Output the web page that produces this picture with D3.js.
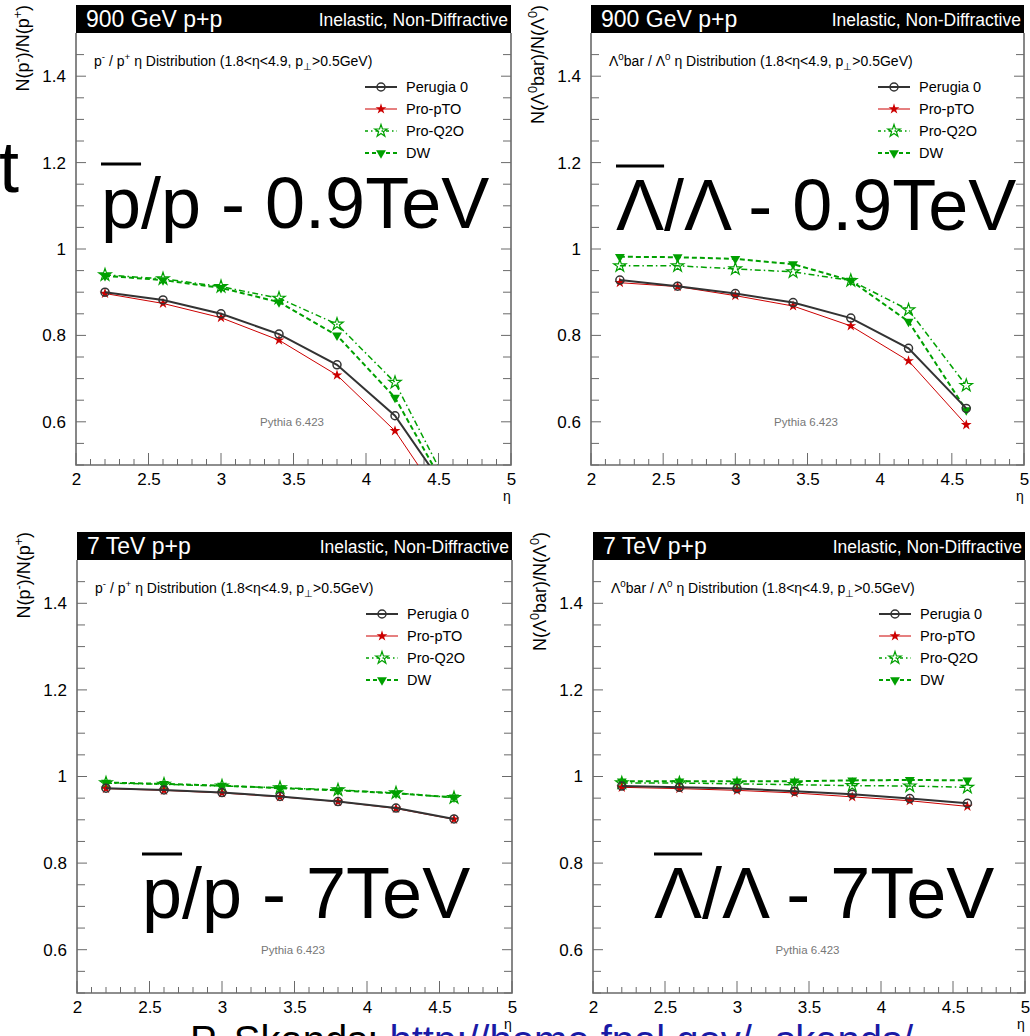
<!DOCTYPE html>
<html>
<head>
<meta charset="utf-8">
<style>
  body { margin: 0; background: #fff; }
  text { font-family: "Liberation Sans", Arial, sans-serif; }
</style>
</head>
<body>
<div id="chart"></div>
<script src="https://d3js.org/d3.v7.min.js"></script>
<script>
// eta bin centres
var eta = [2.2, 2.6, 3.0, 3.4, 3.8, 4.2, 4.6];

// 900 GeV, pbar/p
var p900Perugia = [0.900, 0.882, 0.850, 0.803, 0.732, 0.614, 0.42];
var p900ProPTO  = [0.897, 0.874, 0.841, 0.789, 0.708, 0.579, 0.38];
var p900ProQ2O  = [0.940, 0.931, 0.913, 0.886, 0.826, 0.691, 0.43];
var p900DW      = [0.938, 0.928, 0.910, 0.877, 0.800, 0.656, 0.416];

// 900 GeV, Lambdabar/Lambda
var l900Perugia = [0.928, 0.914, 0.897, 0.876, 0.840, 0.770, 0.631];
var l900ProPTO  = [0.922, 0.913, 0.892, 0.868, 0.822, 0.741, 0.593];
var l900ProQ2O  = [0.961, 0.961, 0.954, 0.947, 0.927, 0.859, 0.684];
var l900DW      = [0.982, 0.981, 0.977, 0.965, 0.927, 0.832, 0.627];

// 7 TeV, pbar/p
var p7Perugia = [0.973, 0.969, 0.963, 0.954, 0.942, 0.927, 0.902];
var p7ProPTO  = [0.972, 0.968, 0.962, 0.953, 0.942, 0.926, 0.901];
var p7ProQ2O  = [0.985, 0.982, 0.978, 0.974, 0.969, 0.962, 0.951];
var p7DW      = [0.986, 0.983, 0.979, 0.973, 0.968, 0.961, 0.952];

// 7 TeV, Lambdabar/Lambda
var l7Perugia = [0.978, 0.975, 0.972, 0.966, 0.959, 0.949, 0.938];
var l7ProPTO  = [0.975, 0.972, 0.968, 0.962, 0.953, 0.944, 0.931];
var l7ProQ2O  = [0.985, 0.985, 0.983, 0.981, 0.979, 0.978, 0.975];
var l7DW      = [0.989, 0.989, 0.989, 0.989, 0.991, 0.992, 0.991];

var seriesNames = ["Perugia 0", "Pro-pTO", "Pro-Q2O", "DW"];
var xTicks = [2, 2.5, 3, 3.5, 4, 4.5, 5];
var yTicks = [0.6, 0.8, 1, 1.2, 1.4];

var W = 1030, H = 1036;
var svg = d3.select("#chart").append("svg").attr("width", W).attr("height", H);

var styles = [
  { color: "#333333", width: 2,   dash: null,        marker: "circle" },
  { color: "#cc0000", width: 1,   dash: null,        marker: "star" },
  { color: "#00a000", width: 1.5, dash: "6,3,1.5,3", marker: "openstar" },
  { color: "#00a000", width: 2,   dash: "5,3",       marker: "tri" }
];

var panels = [
  { x0: 76, x1: 511, top: 33, bot: 465, energy: "900 GeV p+p", kind: "p",
    data: [p900Perugia, p900ProPTO, p900ProQ2O, p900DW] },
  { x0: 591, x1: 1024, top: 33, bot: 465, energy: "900 GeV p+p", kind: "l",
    data: [l900Perugia, l900ProPTO, l900ProQ2O, l900DW] },
  { x0: 77, x1: 512, top: 560, bot: 993, energy: "7 TeV p+p", kind: "p",
    data: [p7Perugia, p7ProPTO, p7ProQ2O, p7DW] },
  { x0: 593, x1: 1025, top: 560, bot: 993, energy: "7 TeV p+p", kind: "l",
    data: [l7Perugia, l7ProPTO, l7ProQ2O, l7DW] }
];

// text made of plain / sup / sub pieces
function richText(sel, parts, size) {
  var shift = 0;
  parts.forEach(function (p) {
    var t = sel.append("tspan").text(p[0]);
    var want = p[1] == "sup" ? -size * 0.4 : (p[1] == "sub" ? size * 0.3 : 0);
    if (p[1]) t.attr("font-size", size * 0.7);
    if (want != shift) t.attr("dy", want - shift);
    shift = want;
  });
}

function markerPath(type) {
  if (type == "tri") return d3.symbol().type(d3.symbolTriangle).size(42)();
  return d3.symbol().type(d3.symbolStar).size(type == "star" ? 36 : 48)();
}

function drawMarker(g, type, color, cx, cy) {
  if (type == "circle") {
    g.append("circle").attr("cx", cx).attr("cy", cy).attr("r", 4)
      .attr("fill", "none").attr("stroke", color).attr("stroke-width", 1.5);
  } else {
    var pth = g.append("path").attr("d", markerPath(type))
      .attr("transform", "translate(" + cx + "," + cy + ")" + (type == "tri" ? " rotate(180)" : ""));
    if (type == "openstar") pth.attr("fill", "none").attr("stroke", color).attr("stroke-width", 1.2);
    else pth.attr("fill", color);
  }
}

panels.forEach(function (P, pi) {
  var g = svg.append("g");
  var x = d3.scaleLinear().domain([2, 5]).range([P.x0, P.x1]);
  var y = d3.scaleLinear().domain([0.5, 1.5]).range([P.bot, P.top]);

  // header bar
  g.append("rect").attr("x", P.x0).attr("y", P.top - 28).attr("width", P.x1 - P.x0).attr("height", 28).attr("fill", "#000");
  g.append("text").attr("x", P.x0 + 10).attr("y", P.top - 6).attr("fill", "#fff").attr("font-size", 23).text(P.energy);
  g.append("text").attr("x", P.x1 - 3).attr("y", P.top - 7).attr("fill", "#fff").attr("font-size", 17.5)
    .attr("text-anchor", "end").text("Inelastic, Non-Diffractive");

  // frame
  g.append("path").attr("d", "M" + P.x0 + "," + P.top + "V" + P.bot + "H" + P.x1 + "V" + P.top)
    .attr("fill", "none").attr("stroke", "#6a6a6a").attr("stroke-width", 1.6);

  // x ticks
  d3.range(20, 51).map(function (d) { return d / 10; }).forEach(function (v) {
    var major = Math.abs(v * 2 - Math.round(v * 2)) < 1e-6;
    g.append("line").attr("x1", x(v)).attr("x2", x(v)).attr("y1", P.bot).attr("y2", P.bot - (major ? 12 : 6))
      .attr("stroke", "#6a6a6a").attr("stroke-width", 1);
  });
  var xAxis = d3.axisBottom(x).tickValues(xTicks).tickSize(0).tickPadding(8)
    .tickFormat(function (d) { return d3.format("")(d); });
  var xg = g.append("g").attr("transform", "translate(0," + P.bot + ")").call(xAxis);
  xg.select(".domain").remove();
  xg.selectAll("text").attr("font-size", 17).attr("font-family", "Liberation Sans, Arial, sans-serif").attr("fill", "#000");
  g.append("text").attr("x", P.x1 - 4).attr("y", P.bot + 36).attr("font-size", 14).attr("text-anchor", "middle").text("η");

  // y ticks (both sides)
  d3.range(10, 30).map(function (d) { return d / 20; }).forEach(function (v) {
    var major = Math.abs(v * 5 - Math.round(v * 5)) < 1e-6;
    var len = major ? 10 : 8;
    g.append("line").attr("x1", P.x0).attr("x2", P.x0 + len).attr("y1", y(v)).attr("y2", y(v)).attr("stroke", "#6a6a6a");
    g.append("line").attr("x1", P.x1).attr("x2", P.x1 - len).attr("y1", y(v)).attr("y2", y(v)).attr("stroke", "#6a6a6a");
  });
  var yAxis = d3.axisLeft(y).tickValues(yTicks).tickSize(0).tickPadding(10)
    .tickFormat(function (d) { return d3.format("")(d); });
  var yg = g.append("g").attr("transform", "translate(" + P.x0 + ",0)").call(yAxis);
  yg.select(".domain").remove();
  yg.selectAll("text").attr("font-size", 17).attr("font-family", "Liberation Sans, Arial, sans-serif").attr("fill", "#000");

  // y title
  var yt = g.append("text").attr("font-size", 18).attr("text-anchor", "end")
    .attr("transform", "translate(" + (P.x0 - 47) + "," + (P.top - 28) + ") rotate(-90)");
  if (P.kind == "p") richText(yt, [["N(p"], ["-", "sup"], [")/N(p"], ["+", "sup"], [")"]], 18);
  else richText(yt, [["N(Λ"], ["0", "sup"], ["bar)/N(Λ"], ["0", "sup"], [")"]], 18);

  // subtitle
  var st = g.append("text").attr("x", P.x0 + 18).attr("y", P.top + 33).attr("font-size", 14);
  if (P.kind == "p") richText(st, [["p"], ["-", "sup"], [" / p"], ["+", "sup"], [" η Distribution (1.8<η<4.9, p"], ["⊥", "sub"], [">0.5GeV)"]], 14);
  else richText(st, [["Λ"], ["0", "sup"], ["bar / Λ"], ["0", "sup"], [" η Distribution (1.8<η<4.9, p"], ["⊥", "sub"], [">0.5GeV)"]], 14);

  // generator label
  g.append("text").attr("x", x(3.49)).attr("y", y(0.6) + 4).attr("font-size", 11.5).attr("fill", "#777")
    .attr("text-anchor", "middle").text("Pythia 6.423");

  // data
  var clipId = "clip" + pi;
  svg.append("clipPath").attr("id", clipId).append("rect")
    .attr("x", P.x0).attr("y", P.top).attr("width", P.x1 - P.x0).attr("height", P.bot - P.top);
  var dg = g.append("g").attr("clip-path", "url(#" + clipId + ")");
  [3, 2, 1, 0].forEach(function (si) {
    var s = styles[si];
    var vals = P.data[si];
    var line = d3.line().x(function (d, i) { return x(eta[i]); }).y(function (d) { return y(d); });
    var l = dg.append("path").datum(vals).attr("d", line).attr("fill", "none")
      .attr("stroke", s.color).attr("stroke-width", s.width);
    if (s.dash) l.attr("stroke-dasharray", s.dash);
    vals.forEach(function (v, i) { drawMarker(dg, s.marker, s.color, x(eta[i]), y(v)); });
  });

  // legend
  var lx = P.x1 - 146, ly = P.top + 54;
  seriesNames.forEach(function (name, i) {
    var s = styles[i];
    var yy = ly + i * 22;
    var ll = g.append("line").attr("x1", lx).attr("x2", lx + 32).attr("y1", yy).attr("y2", yy)
      .attr("stroke", s.color).attr("stroke-width", s.width);
    if (s.dash) ll.attr("stroke-dasharray", s.dash == "5,3" ? "4,3" : "3,3,1.5,3");
    drawMarker(g, s.marker, s.color, lx + 16, yy);
    g.append("text").attr("x", lx + 41).attr("y", yy + 5).attr("font-size", 14.5).text(name);
  });
});

// big overlay labels, with a bar over the first letter
function bigLabel(str, xx, yy) {
  var t = svg.append("text").attr("x", xx).attr("y", yy).attr("font-size", 72).attr("fill", "#000").text(str);
  var w = t.node().getSubStringLength(0, 1);
  svg.append("line").attr("x1", xx).attr("x2", xx + w).attr("y1", yy - 64).attr("y2", yy - 64)
    .attr("stroke", "#000").attr("stroke-width", 3);
}
bigLabel("p/p - 0.9TeV", 101, 228);
bigLabel("Λ/Λ - 0.9TeV", 616, 230);
bigLabel("p/p - 7TeV", 142, 918);
bigLabel("Λ/Λ - 7TeV", 654, 918);

svg.append("text").attr("x", 19).attr("y", 192).attr("font-size", 72).attr("text-anchor", "end").text("t");

// credit line, cut by the bottom edge
var cr = svg.append("text").attr("x", 190).attr("y", 1054).attr("font-size", 40);
cr.append("tspan").attr("fill", "#000").text("P. Skands: ");
cr.append("tspan").attr("fill", "#1a1aa6").text("http://home.fnal.gov/~skands/");
</script>
</body>
</html>
